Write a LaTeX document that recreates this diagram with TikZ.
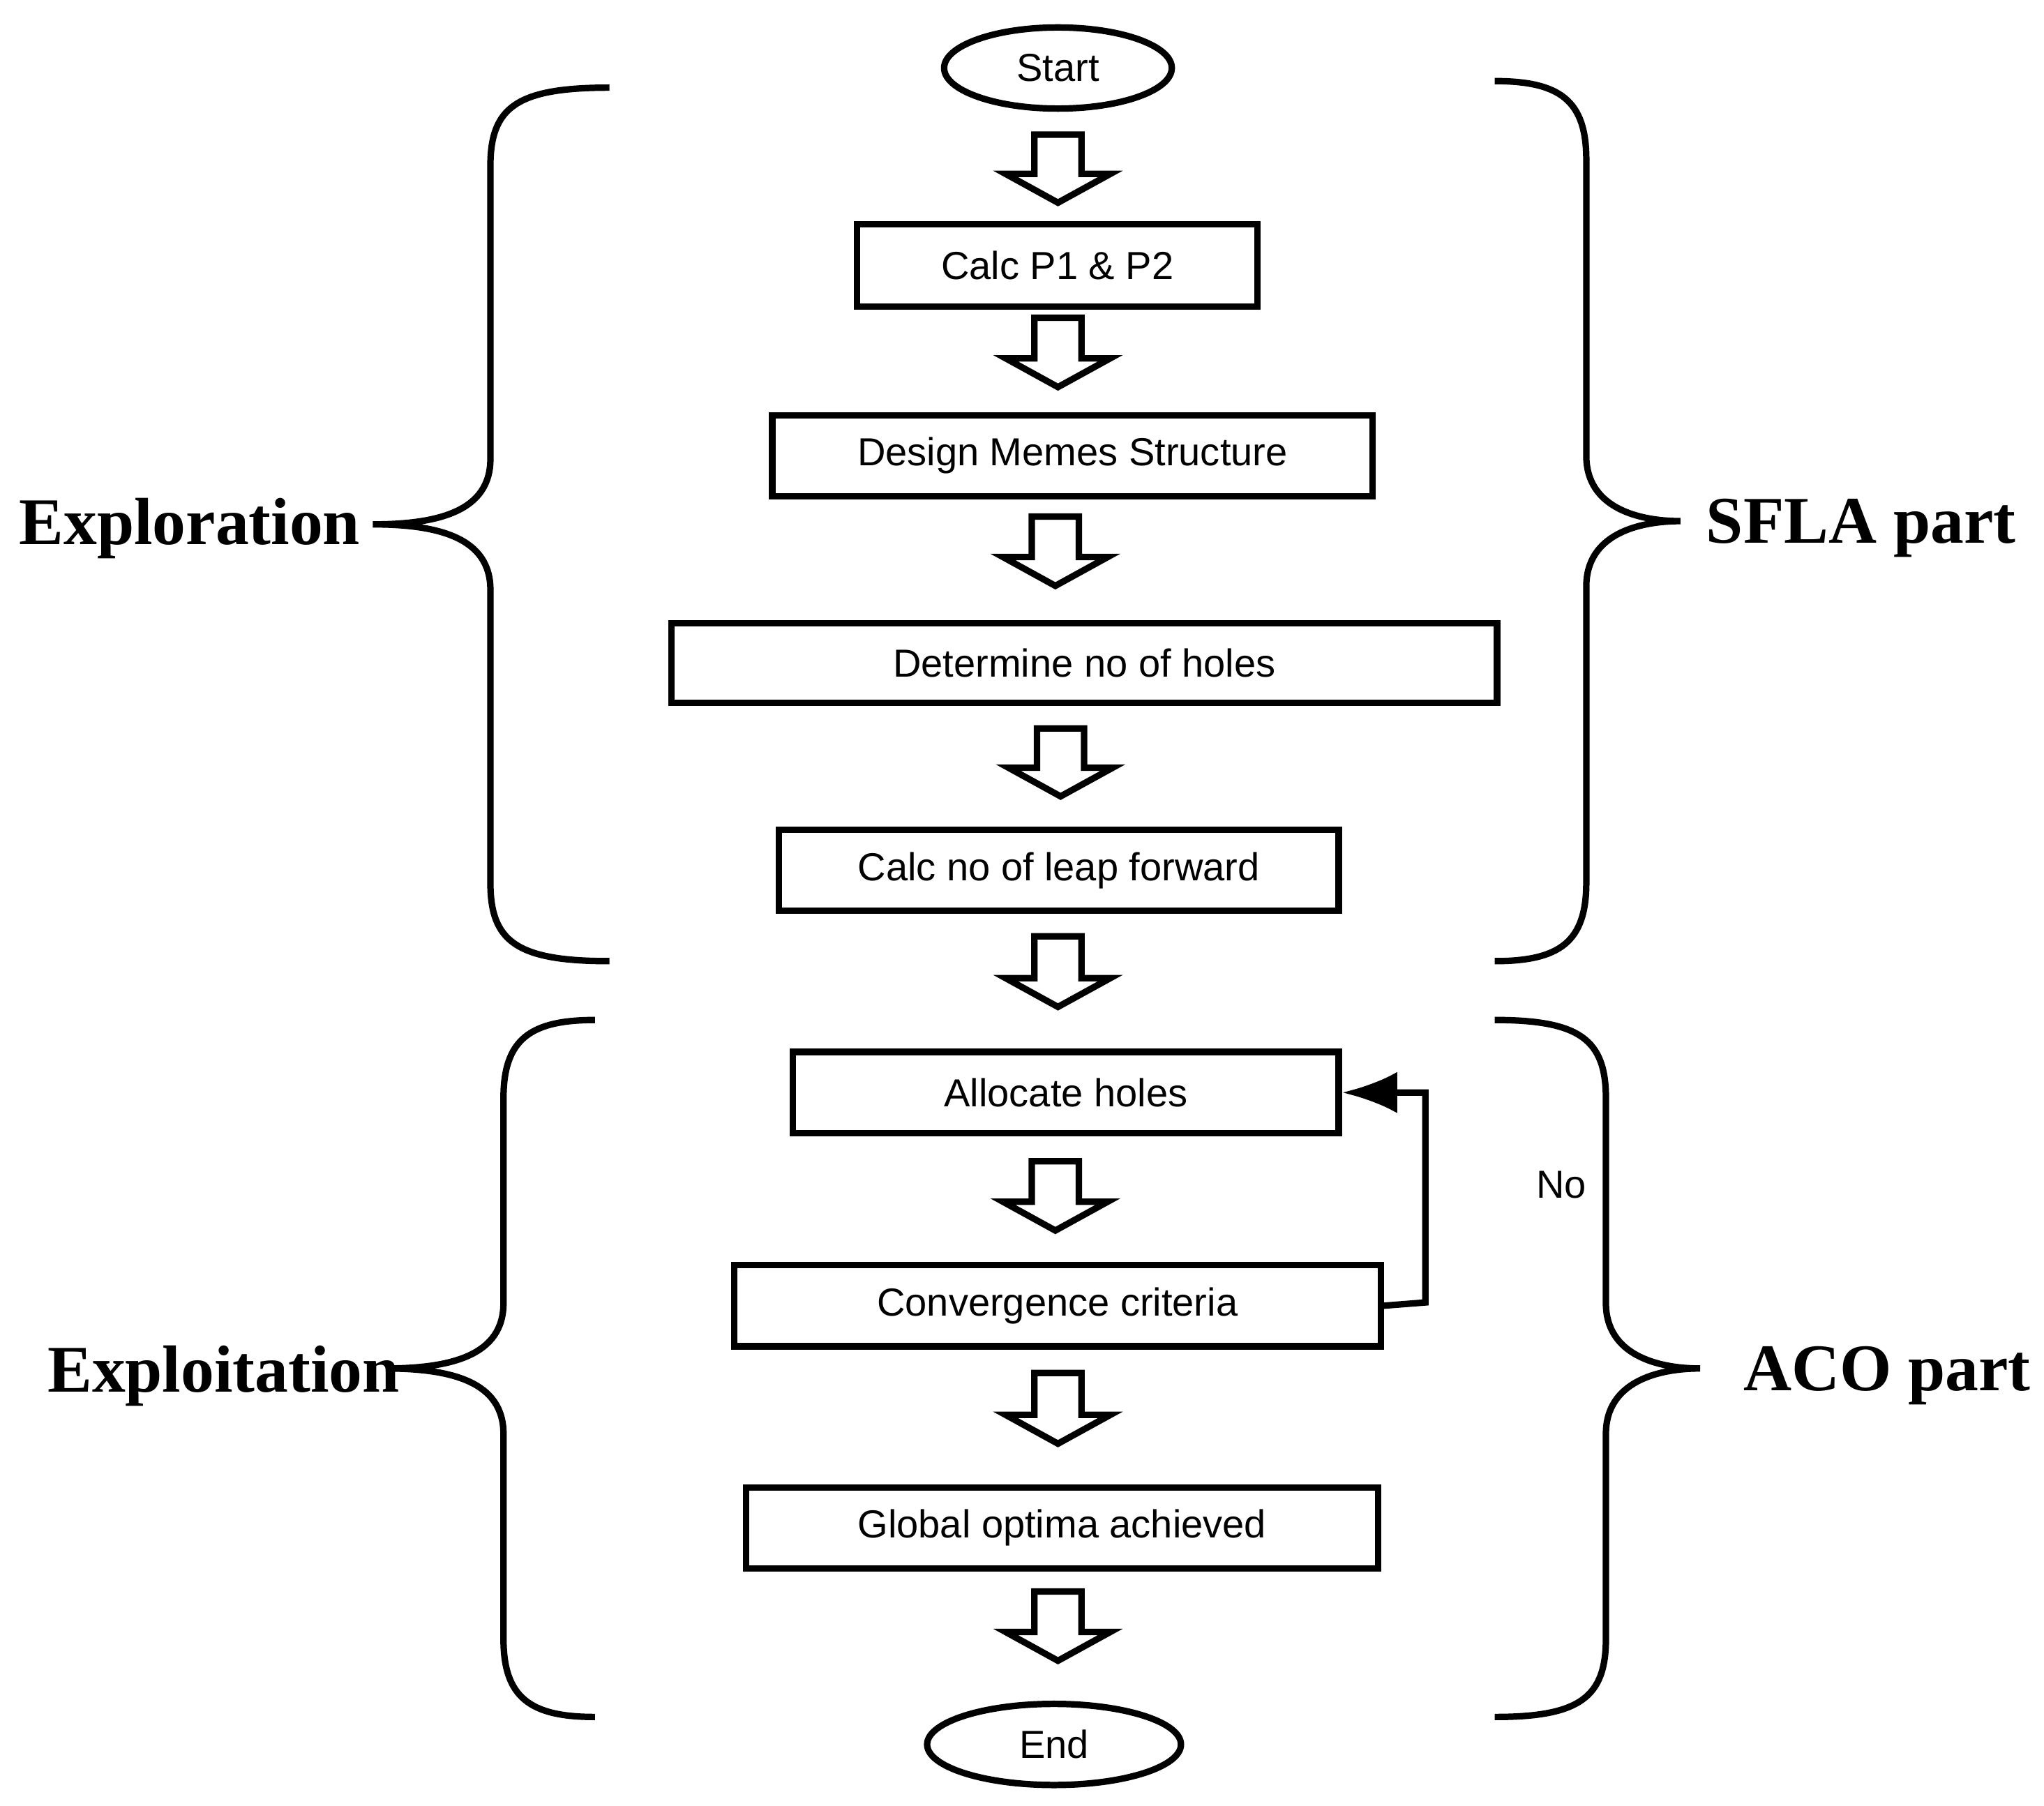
\documentclass[tikz,border=0pt]{standalone}
\usepackage{fontspec}
\setmainfont{Liberation Serif}
\newfontfamily\mysans{Liberation Sans}
\usetikzlibrary{arrows.meta,shapes.geometric}
\tikzset{
 box/.style={draw,line width=1.4pt,inner sep=0pt,font=\mysans\fontsize{8.5}{10}\selectfont,anchor=north west},
 term/.style={draw,ellipse,line width=1.4pt,inner sep=0pt,font=\mysans\fontsize{8.5}{10}\selectfont},
 lab/.style={font=\bfseries\fontsize{14.5}{16}\selectfont},
 br/.style={line width=1.4pt},
 blk/.style={draw,line width=1.4pt,fill=white}
}
\newcommand{\blkarrow}[3]{% x, ytop, ybot
 \draw[blk] (#1-18,#2) -- (#1+18,#2) -- (#1+18,#3-22) -- (#1+40,#3-22) -- (#1,#3) -- (#1-40,#3-22) -- (#1-18,#3-22) -- cycle;}
\newcommand{\leftbr}[4]{% xend, xv, top, bottom
 \pgfmathsetmacro{\m}{(#3+#4)/2}
 \draw[br] (#1,#3) .. controls (#2+20,#3) and (#2,#3+15) .. (#2,#3+60) -- (#2,\m-50)
  .. controls (#2,\m-10) and (#2-40,\m) .. (#2-90,\m)
  .. controls (#2-40,\m) and (#2,\m+10) .. (#2,\m+50) -- (#2,#4-60)
  .. controls (#2,#4-15) and (#2+20,#4) .. (#1,#4);}
\newcommand{\rightbr}[4]{%
 \pgfmathsetmacro{\m}{(#3+#4)/2}
 \draw[br] (#1,#3) .. controls (#2-20,#3) and (#2,#3+15) .. (#2,#3+60) -- (#2,\m-50)
  .. controls (#2,\m-10) and (#2+40,\m) .. (#2+72,\m)
  .. controls (#2+40,\m) and (#2,\m+10) .. (#2,\m+50) -- (#2,#4-60)
  .. controls (#2,#4-15) and (#2-20,#4) .. (#1,#4);}
\begin{document}
\begin{tikzpicture}[x=0.01cm,y=-0.01cm]
\useasboundingbox (0,0) rectangle (1563,1381);
\node[term,minimum width=1.74cm,minimum height=0.62cm] (start) at (809,52) {Start};
\node[box,minimum width=3.06cm,minimum height=0.63cm] (b1) at (653,169) {Calc P1 \& P2};
\node[box,minimum width=4.59cm,minimum height=0.62cm] (b2) at (588,315) {Design Memes Structure};
\node[box,minimum width=6.31cm,minimum height=0.61cm] (b3) at (511,474) {Determine no of holes};
\node[box,minimum width=4.28cm,minimum height=0.62cm] (b4) at (593,632) {Calc no of leap forward};
\node[box,minimum width=4.17cm,minimum height=0.62cm] (b5) at (604,802) {Allocate holes};
\node[box,minimum width=4.94cm,minimum height=0.62cm] (b6) at (559,965) {Convergence criteria};
\node[box,minimum width=4.83cm,minimum height=0.62cm] (b7) at (568,1135) {Global optima achieved};
\node[term,minimum width=1.94cm,minimum height=0.62cm] (end) at (806,1334) {End};
\blkarrow{809}{103}{155}
\blkarrow{809}{243}{296}
\blkarrow{807}{395}{448}
\blkarrow{811}{557}{609}
\blkarrow{809}{716}{770}
\blkarrow{807}{888}{941}
\blkarrow{809}{1050}{1104}
\blkarrow{809}{1217}{1270}
\coordinate (fb) at (1090,996);
\draw[line width=1.4pt,-{Latex[length=12pt,width=9pt]}] (b6.east) -- (fb) |- (b5.east);
\node[font=\mysans\fontsize{8.5}{10}\selectfont] (no) at (1194,906) {No};
\leftbr{466}{375}{67}{735}
\rightbr{1143}{1213}{62}{735}
\leftbr{455}{385}{780}{1313}
\rightbr{1143}{1228}{780}{1313}
\node[lab] (l1) at (145,404) {Exploration};
\node[lab] (l2) at (1423,404) {SFLA part};
\node[lab] (l3) at (171,1052) {Exploitation};
\node[lab] (l4) at (1443,1052) {ACO part};
\end{tikzpicture}
\end{document}
